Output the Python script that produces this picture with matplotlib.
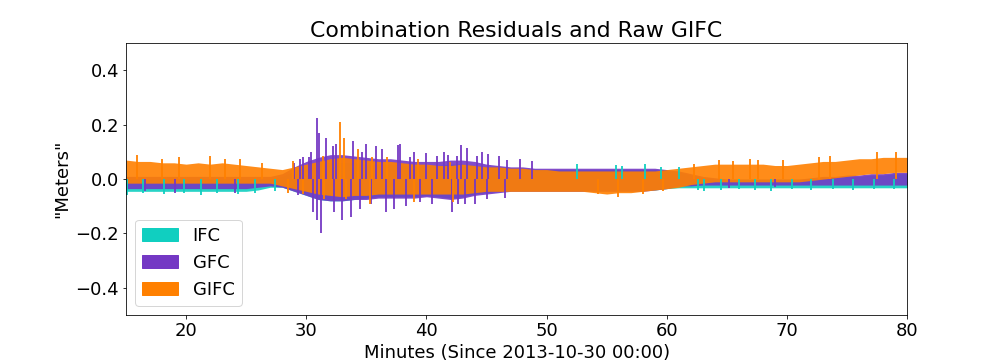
import numpy as np
import matplotlib.pyplot as plt
from matplotlib.patches import Patch

# minutes since 2013-10-30 00:00, one envelope sample per minute
minutes = np.arange(15, 81)

# GIFC envelope (meters)
gifc_hi = [0.07, 0.065, 0.065, 0.06, 0.06, 0.055, 0.06, 0.055, 0.06, 0.055,
           0.05, 0.045, 0.04, 0.035, 0.045, 0.055, 0.065, 0.075, 0.08, 0.075,
           0.07, 0.065, 0.065, 0.06, 0.055, 0.055, 0.05, 0.05, 0.055, 0.05,
           0.045, 0.045, 0.04, 0.04, 0.035, 0.035, 0.03, 0.03, 0.03, 0.03,
           0.03, 0.03, 0.03, 0.03, 0.03, 0.035, 0.04, 0.045, 0.05, 0.055,
           0.055, 0.055, 0.055, 0.055, 0.05, 0.05, 0.055, 0.06, 0.065, 0.065,
           0.07, 0.075, 0.075, 0.08, 0.08, 0.08]
gifc_lo = [-0.015, -0.015, -0.015, -0.015, -0.015, -0.015, -0.015, -0.015, -0.015, -0.015,
           -0.015, -0.015, -0.015, -0.025, -0.035, -0.045, -0.055, -0.06, -0.065, -0.06,
           -0.06, -0.055, -0.055, -0.055, -0.055, -0.055, -0.055, -0.055, -0.055, -0.05,
           -0.045, -0.045, -0.045, -0.045, -0.045, -0.045, -0.045, -0.045, -0.045, -0.05,
           -0.055, -0.05, -0.05, -0.045, -0.04, -0.035, -0.03, -0.02, -0.015, -0.01,
           -0.01, -0.01, -0.01, -0.01, -0.01, -0.01, -0.01, -0.005, 0.0, 0.005,
           0.01, 0.015, 0.02, 0.02, 0.025, 0.025]

# GFC envelope
gfc_hi = [0.01, 0.01, 0.01, 0.01, 0.01, 0.01, 0.01, 0.01, 0.01, 0.01,
          0.01, 0.01, 0.01, 0.02, 0.045, 0.065, 0.08, 0.09, 0.09, 0.085,
          0.08, 0.075, 0.075, 0.07, 0.065, 0.065, 0.065, 0.07, 0.07, 0.065,
          0.055, 0.05, 0.045, 0.045, 0.04, 0.04, 0.04, 0.04, 0.04, 0.04,
          0.04, 0.04, 0.04, 0.04, 0.04, 0.035, 0.03, 0.02, 0.01, 0.005,
          0.0, 0.0, 0.0, 0.0, 0.0, 0.0, 0.0, 0.005, 0.01, 0.01,
          0.015, 0.015, 0.02, 0.02, 0.025, 0.025]
gfc_lo = [-0.035, -0.035, -0.035, -0.035, -0.035, -0.035, -0.035, -0.035, -0.035, -0.035,
          -0.035, -0.03, -0.025, -0.03, -0.045, -0.06, -0.075, -0.08, -0.08, -0.075,
          -0.075, -0.07, -0.07, -0.07, -0.07, -0.065, -0.07, -0.075, -0.07, -0.06,
          -0.055, -0.05, -0.045, -0.045, -0.045, -0.045, -0.045, -0.045, -0.045, -0.045,
          -0.045, -0.045, -0.045, -0.045, -0.04, -0.035, -0.025, -0.025, -0.022, -0.022,
          -0.022, -0.022, -0.022, -0.022, -0.022, -0.022, -0.022, -0.022, -0.022, -0.022,
          -0.022, -0.022, -0.022, -0.022, -0.022, -0.022]

# IFC envelope
ifc_hi = [0.0, 0.0, 0.0, 0.0, 0.0, 0.0, 0.0, 0.0, 0.0, 0.0,
          0.0, 0.0, 0.0, 0.01, 0.03, 0.05, 0.06, 0.06, 0.06, 0.06,
          0.055, 0.055, 0.055, 0.05, 0.05, 0.05, 0.05, 0.055, 0.055, 0.05,
          0.045, 0.045, 0.04, 0.04, 0.035, 0.035, 0.035, 0.035, 0.035, 0.035,
          0.035, 0.035, 0.035, 0.035, 0.035, 0.03, 0.025, 0.015, 0.005, 0.0,
          0.0, 0.0, 0.0, 0.0, 0.0, 0.0, 0.0, 0.0, 0.005, 0.005,
          0.01, 0.01, 0.015, 0.015, 0.02, 0.02]
ifc_lo = [-0.045, -0.045, -0.045, -0.045, -0.045, -0.045, -0.045, -0.045, -0.045, -0.045,
          -0.045, -0.04, -0.03, -0.03, -0.045, -0.06, -0.075, -0.08, -0.08, -0.075,
          -0.07, -0.065, -0.065, -0.065, -0.065, -0.06, -0.065, -0.07, -0.065, -0.055,
          -0.05, -0.045, -0.04, -0.04, -0.04, -0.04, -0.04, -0.04, -0.04, -0.04,
          -0.04, -0.04, -0.04, -0.04, -0.04, -0.035, -0.032, -0.032, -0.032, -0.032,
          -0.032, -0.032, -0.032, -0.032, -0.032, -0.032, -0.032, -0.032, -0.032, -0.032,
          -0.032, -0.032, -0.032, -0.032, -0.032, -0.032]

# single samples that stick out of the bands (minute, meters)
ifc_spike_t = [15.1, 16.4, 18.2, 19.8, 21.2, 22.6, 24.3, 25.7, 27.4,
               52.5, 55.8, 56.3, 58.2, 59.5, 61.0,
               62.6, 63.1, 64.5, 66.0, 67.3, 68.7, 70.4, 72.0, 73.8, 75.5, 77.2, 78.9]
ifc_spike_v = [-0.06, -0.052, -0.055, -0.05, -0.06, -0.052, -0.055, -0.05, -0.045,
               0.055, 0.052, 0.05, 0.055, 0.045, 0.045,
               -0.04, -0.042, -0.04, -0.038, -0.04, -0.042, -0.038, -0.04, -0.038, -0.04, -0.038, -0.038]

gfc_spike_t = [29.0, 29.5, 29.7, 30.2, 30.4, 30.9, 31.1, 31.6, 32.2, 32.5, 33.9, 34.6,
               35.0, 35.8, 36.3, 37.6, 37.8, 38.6, 39.0, 40.0, 40.9, 41.5, 41.8, 42.5,
               42.9, 43.4, 44.2, 44.6, 45.1, 46.0, 46.7, 47.8, 48.8,
               16.6, 19.1, 24.1, 65.2, 69.0,
               29.3, 30.6, 30.9, 31.2, 32.3, 33.0, 33.7, 34.5, 35.4, 36.6, 37.3, 38.3,
               39.5, 40.5, 42.1, 42.6, 43.2, 44.0, 45.0, 46.5]
gfc_spike_v = [0.06, 0.075, 0.08, 0.08, 0.1, 0.225, 0.17, 0.15, 0.12, 0.13, 0.14, 0.1,
               0.13, 0.12, 0.11, 0.127, 0.13, 0.08, 0.1, 0.095, 0.085, 0.1, 0.09, 0.085,
               0.125, 0.114, 0.085, 0.1, 0.093, 0.085, 0.07, 0.075, 0.065,
               -0.045, -0.05, -0.05, -0.033, -0.03,
               -0.06, -0.12, -0.15, -0.2, -0.12, -0.15, -0.14, -0.11, -0.09, -0.12, -0.11, -0.1,
               -0.085, -0.09, -0.12, -0.09, -0.092, -0.09, -0.074, -0.07]

gifc_spike_t = [15.9, 18.0, 19.4, 22.0, 23.2, 24.5, 26.3,
                28.9, 31.4, 32.8, 33.1, 34.3, 35.5, 36.7, 39.3, 42.0,
                62.3, 64.3, 65.5, 66.9, 67.6, 69.7, 72.7, 73.6, 77.5, 79.1,
                28.5, 29.7, 31.5, 33.3, 35.3, 39.0, 42.2, 54.3, 55.9, 58.0, 59.7]
gifc_spike_v = [0.09, 0.075, 0.08, 0.085, 0.075, 0.075, 0.06,
                0.067, 0.086, 0.21, 0.15, 0.11, 0.08, 0.08, 0.074, 0.062,
                0.055, 0.071, 0.068, 0.074, 0.071, 0.071, 0.08, 0.086, 0.1, 0.1,
                -0.05, -0.055, -0.075, -0.074, -0.092, -0.085, -0.085, -0.055, -0.067, -0.055, -0.043]

c_ifc = '#10cfc0'
c_gfc = '#7438c4'
c_gifc = '#ff8000'

fig, ax = plt.subplots(figsize=(14, 5), dpi=72)
fig.subplots_adjust(left=0.125, right=0.9, top=0.88, bottom=0.125)

ax.fill_between(minutes, ifc_lo, ifc_hi, color=c_ifc, alpha=0.9, lw=0)
ax.vlines(ifc_spike_t, 0, ifc_spike_v, color=c_ifc, alpha=0.9, lw=2)
ax.fill_between(minutes, gfc_lo, gfc_hi, color=c_gfc, alpha=0.9, lw=0)
ax.vlines(gfc_spike_t, 0, gfc_spike_v, color=c_gfc, alpha=0.9, lw=2)
ax.fill_between(minutes, gifc_lo, gifc_hi, color=c_gifc, alpha=0.9, lw=0)
ax.vlines(gifc_spike_t, 0, gifc_spike_v, color=c_gifc, alpha=0.9, lw=2)

ax.set_xlim(15, 80)
ax.set_ylim(-0.5, 0.5)
ax.set_title('Combination Residuals and Raw GIFC', fontsize=22)
ax.set_xlabel('Minutes (Since 2013-10-30 00:00)', fontsize=18)
ax.set_ylabel('"Meters"', fontsize=18)
ax.tick_params(labelsize=18)

handles = [Patch(color=c_ifc, label='IFC'),
           Patch(color=c_gfc, label='GFC'),
           Patch(color=c_gifc, label='GIFC')]
ax.legend(handles=handles, loc='lower left', fontsize=18)

fig.savefig('out.png')
